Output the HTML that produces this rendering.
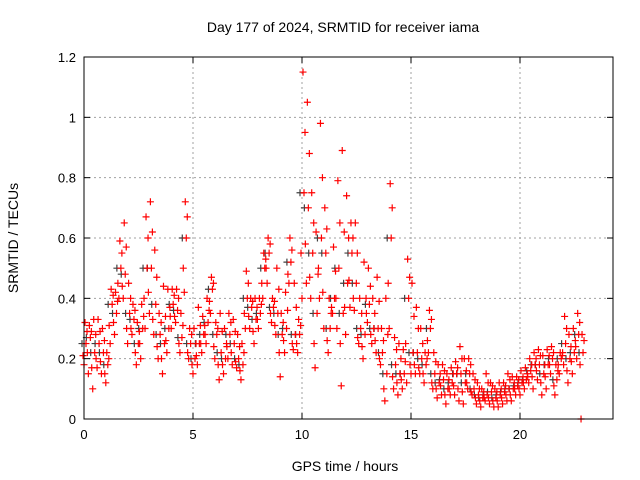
<!DOCTYPE html>
<html><head><meta charset="utf-8"><style>
body{margin:0;background:#fff}
svg{display:block;font-family:"Liberation Sans",sans-serif}
</style></head><body>
<svg id="chart" width="640" height="480">
<text x="343" y="32" font-size="14" text-anchor="middle">Day 177 of 2024, SRMTID for receiver iama</text>
<text x="0" y="0" font-size="14" text-anchor="middle" transform="translate(18,238) rotate(-90)">SRMTID / TECUs</text>
<text x="345" y="471" font-size="14" text-anchor="middle">GPS time / hours</text>
<g id="grid"></g><g id="ticks"></g><g id="marks"></g>
<rect x="84" y="57" width="529" height="362" fill="none" stroke="#000" stroke-width="1"/>
</svg>
<script>
const hours=[0,0.2,0.4,0.6,0.8,1,1.2,1.4,1.6,1.8,2,2.2,2.4,2.6,2.8,3,3.2,3.4,3.6,3.8,4,4.2,4.4,4.6,4.8,5,5.2,5.4,5.6,5.8,6,6.2,6.4,6.6,6.8,7,7.2,7.4,7.6,7.8,8,8.2,8.4,8.6,8.8,9,9.2,9.4,9.6,9.8,10,10.2,10.4,10.6,10.8,11,11.2,11.4,11.6,11.8,12,12.2,12.4,12.6,12.8,13,13.2,13.4,13.6,13.8,14,14.2,14.4,14.6,14.8,15,15.2,15.4,15.6,15.8,16,16.2,16.4,16.6,16.8,17,17.2,17.4,17.6,17.8,18,18.2,18.4,18.6,18.8,19,19.2,19.4,19.6,19.8,20,20.2,20.4,20.6,20.8,21,21.2,21.4,21.6,21.8,22,22.2,22.4,22.6,22.8];
const lowVals=[0.18,0.15,0.10,0.17,0.15,0.12,0.25,0.28,0.40,0.40,0.25,0.28,0.18,0.20,0.30,0.35,0.28,0.20,0.15,0.22,0.30,0.32,0.22,0.42,0.20,0.15,0.18,0.22,0.25,0.35,0.20,0.13,0.15,0.20,0.18,0.17,0.13,0.30,0.30,0.25,0.30,0.40,0.45,0.32,0.28,0.14,0.22,0.45,0.23,0.22,0.40,0.45,0.40,0.17,0.40,0.30,0.22,0.35,0.30,0.11,0.28,0.37,0.36,0.25,0.20,0.32,0.25,0.22,0.18,0.06,0.30,0.10,0.08,0.10,0.12,0.15,0.15,0.15,0.12,0.22,0.10,0.07,0.08,0.05,0.08,0.08,0.06,0.05,0.10,0.08,0.05,0.04,0.06,0.05,0.04,0.04,0.05,0.06,0.06,0.08,0.08,0.10,0.12,0.10,0.13,0.08,0.10,0.15,0.08,0.15,0.18,0.12,0.15,0.20,0.00];
const q1Vals=[0.21,0.22,0.17,0.20,0.19,0.15,0.31,0.32,0.45,0.44,0.30,0.30,0.22,0.25,0.40,0.42,0.33,0.24,0.20,0.26,0.34,0.34,0.25,0.50,0.22,0.18,0.21,0.25,0.28,0.39,0.24,0.18,0.18,0.24,0.22,0.19,0.16,0.35,0.34,0.29,0.33,0.45,0.50,0.35,0.31,0.22,0.26,0.48,0.25,0.25,0.55,0.58,0.47,0.25,0.50,0.42,0.26,0.37,0.40,0.25,0.37,0.46,0.40,0.27,0.24,0.35,0.28,0.26,0.20,0.10,0.45,0.14,0.12,0.13,0.25,0.18,0.18,0.17,0.15,0.26,0.12,0.10,0.11,0.08,0.10,0.11,0.10,0.09,0.12,0.09,0.07,0.06,0.07,0.07,0.06,0.06,0.07,0.08,0.08,0.10,0.10,0.12,0.14,0.14,0.16,0.12,0.14,0.18,0.11,0.18,0.22,0.16,0.19,0.24,0.18];
const midVals=[0.25,0.27,0.22,0.25,0.22,0.18,0.38,0.35,0.50,0.48,0.35,0.33,0.25,0.30,0.50,0.50,0.38,0.28,0.25,0.30,0.38,0.36,0.27,0.60,0.25,0.20,0.25,0.28,0.32,0.43,0.28,0.22,0.20,0.28,0.25,0.20,0.18,0.40,0.37,0.33,0.35,0.50,0.55,0.37,0.35,0.28,0.30,0.52,0.28,0.28,0.75,0.70,0.55,0.35,0.60,0.55,0.30,0.40,0.50,0.35,0.45,0.55,0.45,0.30,0.28,0.38,0.30,0.30,0.22,0.15,0.60,0.18,0.15,0.15,0.40,0.22,0.22,0.20,0.18,0.30,0.15,0.12,0.13,0.10,0.12,0.15,0.15,0.12,0.15,0.10,0.08,0.07,0.08,0.09,0.07,0.08,0.09,0.10,0.10,0.11,0.12,0.13,0.16,0.18,0.18,0.15,0.18,0.20,0.13,0.20,0.25,0.20,0.22,0.28,0.22];
const q3Vals=[0.29,0.29,0.28,0.29,0.26,0.20,0.41,0.39,0.55,0.57,0.40,0.36,0.29,0.34,0.60,0.62,0.47,0.32,0.34,0.37,0.41,0.40,0.31,0.67,0.28,0.25,0.31,0.31,0.36,0.45,0.30,0.29,0.25,0.32,0.29,0.24,0.22,0.45,0.39,0.37,0.38,0.53,0.58,0.39,0.43,0.32,0.36,0.56,0.37,0.31,0.95,0.88,0.65,0.48,0.80,0.63,0.35,0.49,0.65,0.62,0.60,0.60,0.55,0.35,0.40,0.44,0.35,0.39,0.26,0.28,0.70,0.23,0.20,0.19,0.47,0.34,0.30,0.25,0.20,0.33,0.19,0.15,0.16,0.13,0.15,0.17,0.20,0.16,0.18,0.13,0.10,0.09,0.12,0.11,0.09,0.10,0.11,0.13,0.12,0.13,0.14,0.15,0.18,0.20,0.21,0.18,0.21,0.22,0.16,0.21,0.30,0.24,0.26,0.32,0.26];
const highVals=[0.32,0.31,0.33,0.33,0.30,0.22,0.43,0.42,0.59,0.65,0.45,0.38,0.32,0.38,0.67,0.72,0.56,0.35,0.44,0.43,0.43,0.43,0.35,0.72,0.30,0.30,0.37,0.34,0.40,0.47,0.32,0.35,0.30,0.35,0.33,0.28,0.25,0.49,0.40,0.40,0.40,0.55,0.60,0.40,0.50,0.35,0.42,0.60,0.45,0.33,1.15,1.05,0.75,0.62,0.98,0.70,0.40,0.57,0.79,0.89,0.74,0.65,0.65,0.40,0.52,0.50,0.40,0.47,0.30,0.40,0.78,0.27,0.25,0.23,0.53,0.45,0.37,0.30,0.22,0.36,0.22,0.18,0.18,0.15,0.17,0.19,0.24,0.20,0.20,0.15,0.12,0.10,0.15,0.12,0.10,0.12,0.12,0.15,0.14,0.14,0.16,0.17,0.20,0.22,0.23,0.21,0.23,0.24,0.18,0.22,0.34,0.28,0.30,0.35,0.28];
const xTicks=[0,5,10,15,20];
const yTicks=[0,0.2,0.4,0.6,0.8,1,1.2];
const yTickLabels=["0","0.2","0.4","0.6","0.8","1","1.2"];

const L=84,R=613,T=57,B=419,XMAX=(R-L)/21.8,YMAX=1.2;
const xs=v=>L+v/XMAX*(R-L);
const ys=v=>B-v/YMAX*(B-T);
const NS="http://www.w3.org/2000/svg";
function mk(tag,attrs,parent){const e=document.createElementNS(NS,tag);for(const k in attrs)e.setAttribute(k,attrs[k]);document.getElementById(parent).appendChild(e);return e;}
xTicks.forEach(v=>{
  const x=xs(v);
  if(v>0){const g=mk('line',{x1:x,x2:x,y1:T,y2:B,stroke:'#a0a0a0','stroke-dasharray':'2,3'},'grid');
  
  }
  mk('line',{x1:x,x2:x,y1:B,y2:B-6,stroke:'#000'},'ticks');
  mk('line',{x1:x,x2:x,y1:T,y2:T+6,stroke:'#000'},'ticks');
  const t=mk('text',{x:x,y:B+20,'font-size':13,'text-anchor':'middle'},'ticks');t.textContent=v;
  
  
});
yTicks.forEach((v,i)=>{
  const y=ys(v);
  if(v>0&&v<YMAX){const g=mk('line',{x1:L,x2:R,y1:y,y2:y,stroke:'#a0a0a0','stroke-dasharray':'2,3'},'grid');
  
  }
  mk('line',{x1:L,x2:L+6,y1:y,y2:y,stroke:'#000'},'ticks');
  mk('line',{x1:R,x2:R-6,y1:y,y2:y,stroke:'#000'},'ticks');
  const t=mk('text',{x:L-8,y:y+5,'font-size':13,'text-anchor':'end'},'ticks');t.textContent=yTickLabels[i];
  
  
});
function plus(x,y,color){
  const p=mk('path',{d:`M${x-3.5},${y}H${x+3.5}M${x},${y-3.5}V${y+3.5}`,stroke:color,'stroke-width':1.2,fill:'none'},'marks');
  
  
}
hours.forEach((h,i)=>{
  plus(xs(h)-2,ys(midVals[i]),'#404040');
});
hours.forEach((h,i)=>{
  plus(xs(h),ys(lowVals[i]),'#ff0000');
  plus(xs(h)-1,ys(q1Vals[i]),'#ff0000');
  plus(xs(h)+2,ys(midVals[i]),'#ff0000');
  plus(xs(h)+3,ys(q3Vals[i]),'#ff0000');
  plus(xs(h)+1,ys(highVals[i]),'#ff0000');
});
</script>
</body></html>
